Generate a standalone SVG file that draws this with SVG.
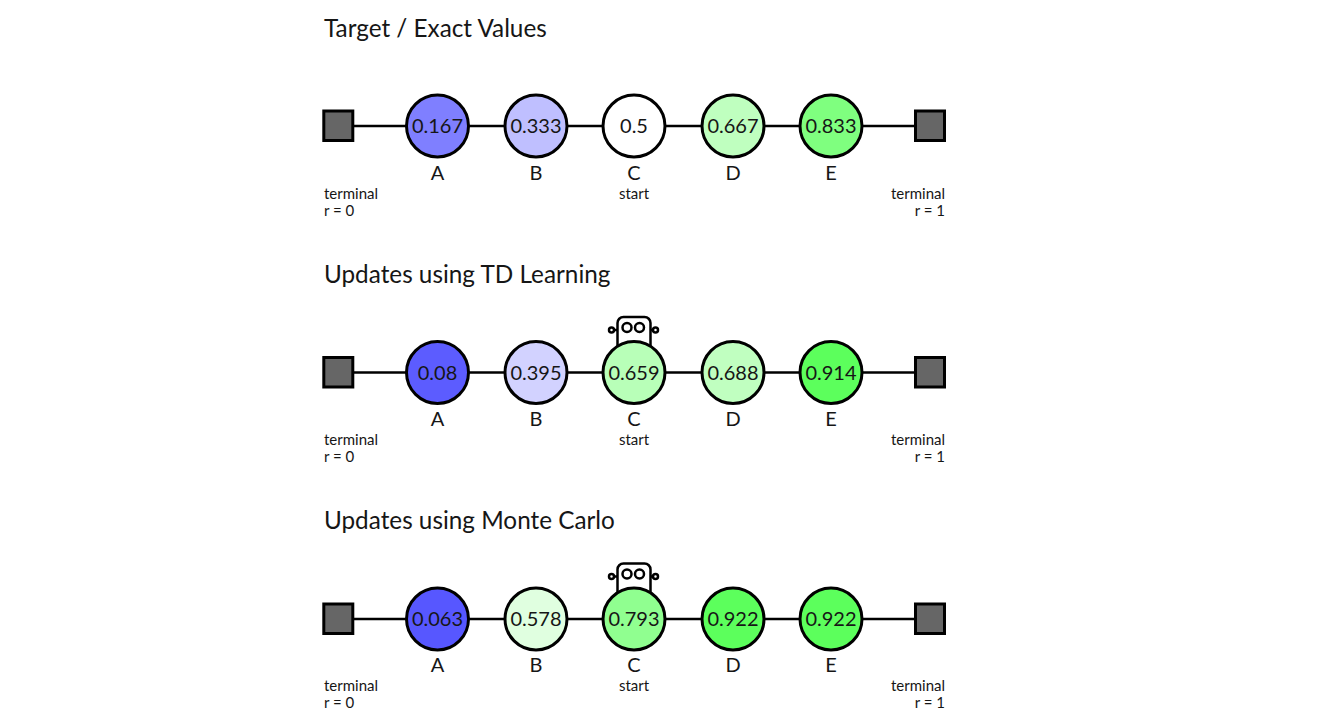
<svg xmlns="http://www.w3.org/2000/svg" xmlns:xlink="http://www.w3.org/1999/xlink" width="1321" height="726" viewBox="0 0 1321 726">
<style>
text{font-family:Lato,"Open Sans","Liberation Sans",sans-serif;fill:#161616}
.title{font-size:24.3px}
.val{font-size:20px;text-anchor:middle}
.name{font-size:20px;text-anchor:middle}
.note{font-size:15px}
.end{text-anchor:end}
.mid{text-anchor:middle}
.state{stroke:#000;stroke-width:3}
.term{fill:#666;stroke:#000;stroke-width:3}
.conn{stroke:#000;stroke-width:2.5;fill:none}
.robot{fill:#fff;stroke:#000;stroke-width:2.500}
</style>
<defs>
<g id="robot">
<path class="conn" d="M614 330H618M650 330H653"/>
<circle class="robot" cx="611.500" cy="330" r="2.500"/>
<circle class="robot" cx="655.500" cy="330" r="2.500"/>
<rect class="robot" x="617.500" y="317" width="33" height="34" rx="6"/>
<circle class="robot" cx="627" cy="327.500" r="4.500"/>
<circle class="robot" cx="639.500" cy="327.500" r="4.500"/>
</g>
</defs>
<rect width="1321" height="726" fill="#fff"/>

<text class="title" x="324" y="37">Target / Exact Values</text>
<text class="title" x="324" y="283">Updates using TD Learning</text>
<text class="title" x="324" y="529">Updates using Monte Carlo</text>

<g id="connectors">
<path class="conn" d="M354 126H915"/>
<path class="conn" d="M354 372.500H915"/>
<path class="conn" d="M354 619H915"/>
</g>

<g id="row1">
<g id="r1-left"><rect class="term" x="323.800" y="111" width="29" height="29.500"/><text class="note" x="324" y="199">terminal</text><text class="note" x="324" y="216">r = 0</text></g>
<g id="r1-A"><circle class="state" cx="437.500" cy="126" r="31" fill="#7f7fff"/><text class="val" x="437.500" y="133">0.167</text><text class="name" x="437.500" y="180">A</text></g>
<g id="r1-B"><circle class="state" cx="536" cy="126" r="31" fill="#bfbfff"/><text class="val" x="536" y="133">0.333</text><text class="name" x="536" y="180">B</text></g>
<g id="r1-C"><circle class="state" cx="634" cy="126" r="31" fill="#fff"/><text class="val" x="634" y="133">0.5</text><text class="name" x="634" y="180">C</text><text class="note mid" x="634" y="199">start</text></g>
<g id="r1-D"><circle class="state" cx="733" cy="126" r="31" fill="#bfffbf"/><text class="val" x="733" y="133">0.667</text><text class="name" x="733" y="180">D</text></g>
<g id="r1-E"><circle class="state" cx="831" cy="126" r="31" fill="#7fff7f"/><text class="val" x="831" y="133">0.833</text><text class="name" x="831" y="180">E</text></g>
<g id="r1-right"><rect class="term" x="915.500" y="111" width="29" height="29.500"/><text class="note end" x="945" y="199">terminal</text><text class="note end" x="945" y="216">r = 1</text></g>
</g>

<g id="row2">
<g id="r2-left"><rect class="term" x="323.800" y="357.500" width="29" height="29.500"/><text class="note" x="324" y="445">terminal</text><text class="note" x="324" y="462">r = 0</text></g>
<g id="r2-A"><circle class="state" cx="437.500" cy="372.500" r="31" fill="#5c5cff"/><text class="val" x="437.500" y="379.500">0.08</text><text class="name" x="437.500" y="426">A</text></g>
<g id="r2-B"><circle class="state" cx="536" cy="372.500" r="31" fill="#d2d2ff"/><text class="val" x="536" y="379.500">0.395</text><text class="name" x="536" y="426">B</text></g>
<use id="r2-robot" xlink:href="#robot"/>
<g id="r2-C"><circle class="state" cx="634" cy="372.500" r="31" fill="#b8ffb8"/><text class="val" x="634" y="379.500">0.659</text><text class="name" x="634" y="426">C</text><text class="note mid" x="634" y="445">start</text></g>
<g id="r2-D"><circle class="state" cx="733" cy="372.500" r="31" fill="#c0ffc0"/><text class="val" x="733" y="379.500">0.688</text><text class="name" x="733" y="426">D</text></g>
<g id="r2-E"><circle class="state" cx="831" cy="372.500" r="31" fill="#5cff5c"/><text class="val" x="831" y="379.500">0.914</text><text class="name" x="831" y="426">E</text></g>
<g id="r2-right"><rect class="term" x="915.500" y="357.500" width="29" height="29.500"/><text class="note end" x="945" y="445">terminal</text><text class="note end" x="945" y="462">r = 1</text></g>
</g>

<g id="row3">
<g id="r3-left"><rect class="term" x="323.800" y="604" width="29" height="29.500"/><text class="note" x="324" y="691">terminal</text><text class="note" x="324" y="708">r = 0</text></g>
<g id="r3-A"><circle class="state" cx="437.500" cy="619" r="31" fill="#5757ff"/><text class="val" x="437.500" y="626">0.063</text><text class="name" x="437.500" y="672">A</text></g>
<g id="r3-B"><circle class="state" cx="536" cy="619" r="31" fill="#e0ffe0"/><text class="val" x="536" y="626">0.578</text><text class="name" x="536" y="672">B</text></g>
<use id="r3-robot" xlink:href="#robot" y="246.500"/>
<g id="r3-C"><circle class="state" cx="634" cy="619" r="31" fill="#90ff90"/><text class="val" x="634" y="626">0.793</text><text class="name" x="634" y="672">C</text><text class="note mid" x="634" y="691">start</text></g>
<g id="r3-D"><circle class="state" cx="733" cy="619" r="31" fill="#5cff5c"/><text class="val" x="733" y="626">0.922</text><text class="name" x="733" y="672">D</text></g>
<g id="r3-E"><circle class="state" cx="831" cy="619" r="31" fill="#5cff5c"/><text class="val" x="831" y="626">0.922</text><text class="name" x="831" y="672">E</text></g>
<g id="r3-right"><rect class="term" x="915.500" y="604" width="29" height="29.500"/><text class="note end" x="945" y="691">terminal</text><text class="note end" x="945" y="708">r = 1</text></g>
</g>
</svg>
